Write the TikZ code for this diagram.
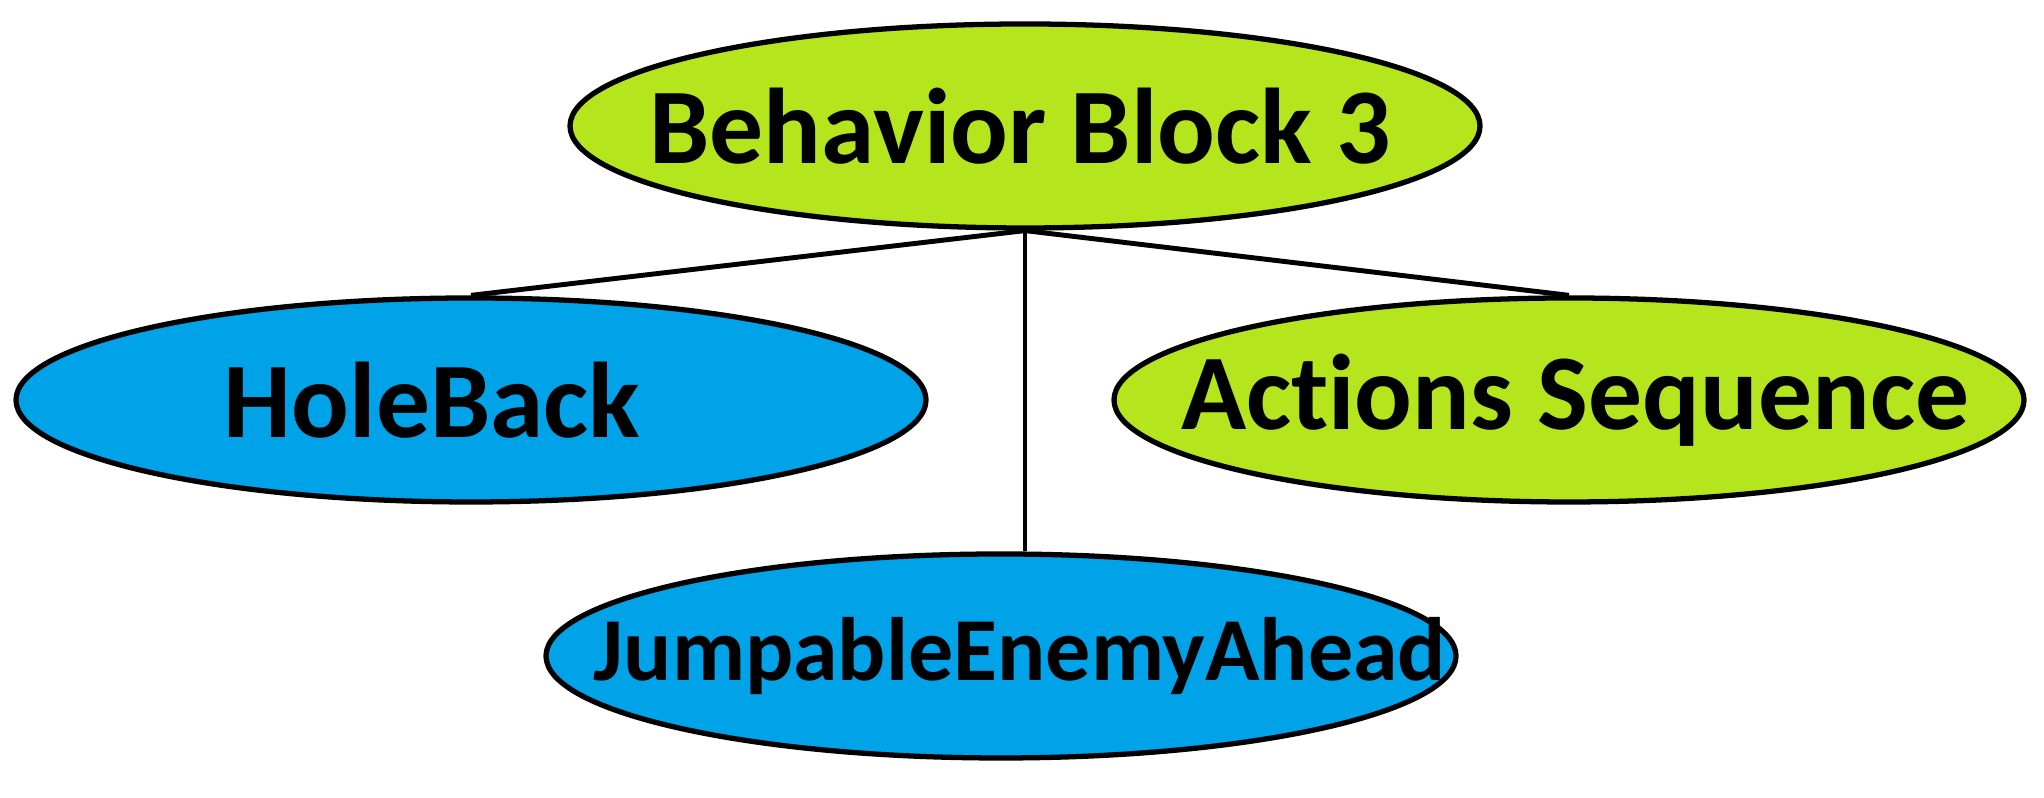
\documentclass[tikz,border=0pt]{standalone}
\usepackage{fontspec}
\setmainfont{Carlito}[Ligatures={NoCommon}]
\usetikzlibrary{positioning,shapes.geometric}
\definecolor{bbLime}{HTML}{B5E61D}
\definecolor{bbCyan}{HTML}{00A2E8}

\begin{document}
\begin{tikzpicture}[
    blob/.style={draw, ellipse, line width=1.5pt, inner sep=0pt,
                 minimum width=9.1cm, minimum height=2.04cm},
    big/.style={font=\fontsize{30.6}{36}\selectfont\bfseries, inner sep=0pt},
    small/.style={font=\fontsize{25.6}{30}\selectfont\bfseries, inner sep=0pt},
    link/.style={line width=1.4pt},
  ]
  \useasboundingbox (0,0) rectangle (20.44,7.98);

  \node[blob, fill=bbLime, label={[big, xshift=-0.05cm]center:Behavior Block 3}]
    (bb3) at (10.25,6.72) {};
  \node[blob, fill=bbCyan, label={[big, xshift=-0.39cm]center:HoleBack}]
    (hole) at (4.71,3.98) {};
  \node[blob, fill=bbLime, label={[big, xshift=0.06cm]center:Actions Sequence}]
    (seq) at (15.69,3.98) {};
  \node[blob, fill=bbCyan, label={[small, xshift=0.19cm]center:JumpableEnemyAhead}]
    (jump) at (10.01,1.42) {};

  \draw[link] (bb3.south) -- (hole.north);
  \draw[link] (bb3.south) -- (seq.north);
  \draw[link] (bb3.south) -- (bb3.south |- jump.north);

\end{tikzpicture}
\end{document}
